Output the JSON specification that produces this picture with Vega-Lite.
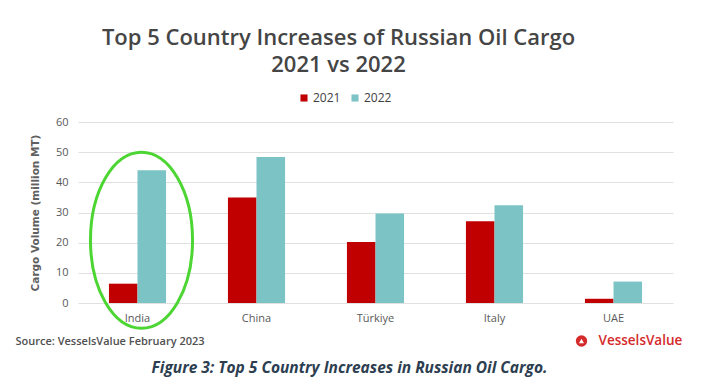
{
  "$schema": "https://vega.github.io/schema/vega-lite/v6.json",
  "autosize": "none",
  "width": 595,
  "height": 181,
  "padding": {"left": 78, "top": 122, "right": 28, "bottom": 83},
  "background": "white",
  "config": {
    "view": {"stroke": null},
    "font": "Open Sans"
  },
  "title": {
    "text": ["Top 5 Country Increases of Russian Oil Cargo", "2021 vs 2022"],
    "frame": "group",
    "anchor": "middle",
    "dx": -37,
    "font": "Open Sans",
    "fontSize": 22,
    "fontWeight": 600,
    "color": "#454545",
    "lineHeight": 27.5,
    "offset": 15
  },
  "datasets": {
    "cargo": [
      {"country": "India", "year": "2021", "volume": 6.4},
      {"country": "India", "year": "2022", "volume": 44.0},
      {"country": "China", "year": "2021", "volume": 35.0},
      {"country": "China", "year": "2022", "volume": 48.4},
      {"country": "Türkiye", "year": "2021", "volume": 20.2},
      {"country": "Türkiye", "year": "2022", "volume": 29.7},
      {"country": "Italy", "year": "2021", "volume": 27.1},
      {"country": "Italy", "year": "2022", "volume": 32.4},
      {"country": "UAE", "year": "2021", "volume": 1.4},
      {"country": "UAE", "year": "2022", "volume": 7.1}
    ],
    "highlight": [
      {"country": "India", "volume": 20.8}
    ],
    "logo": [
      {"country": "UAE", "volume": -12.6, "label": "VesselsValue"}
    ],
    "caption": [
      {"country": "Türkiye", "volume": -21.5, "label": "Figure 3: Top 5 Country Increases in Russian Oil Cargo."}
    ]
  },
  "encoding": {
    "x": {
      "field": "country",
      "type": "nominal",
      "sort": ["India", "China", "Türkiye", "Italy", "UAE"],
      "scale": {"paddingInner": 0.52, "paddingOuter": 0.26},
      "axis": {
        "title": "Source: VesselsValue February 2023",
        "titleAnchor": "start",
        "titleAlign": "left",
        "titleBaseline": "middle",
        "titleX": -63,
        "titleY": 38,
        "titleFontSize": 11,
        "titleFontWeight": 600,
        "titleColor": "#505050",
        "labelAngle": 0,
        "labelFontSize": 11,
        "labelColor": "#595959",
        "labelPadding": 9,
        "domain": false,
        "ticks": false
      }
    },
    "y": {
      "field": "volume",
      "type": "quantitative",
      "scale": {"domain": [0, 60]},
      "axis": {
        "title": "Cargo Volume (million MT)",
        "titleFont": "DejaVu Sans",
        "titleFontSize": 10.5,
        "titleFontWeight": "bold",
        "titleColor": "#606060",
        "titlePadding": 15,
        "values": [0, 10, 20, 30, 40, 50, 60],
        "labelOverlap": false,
        "labelFontSize": 11,
        "labelColor": "#595959",
        "labelPadding": 10,
        "domain": false,
        "ticks": false,
        "gridColor": "#e0e0e0"
      }
    }
  },
  "layer": [
    {
      "data": {"name": "cargo"},
      "mark": {"type": "bar"},
      "encoding": {
        "xOffset": {"field": "year", "type": "nominal"},
        "color": {
          "field": "year",
          "type": "nominal",
          "scale": {"domain": ["2021", "2022"], "range": ["#c00000", "#7cc3c5"]},
          "legend": {
            "title": null,
            "orient": "none",
            "direction": "horizontal",
            "legendX": 220,
            "legendY": -30,
            "symbolType": "square",
            "symbolSize": 50,
            "symbolStrokeWidth": 0,
            "labelFontSize": 12,
            "labelColor": "#404040",
            "columnPadding": 8,
            "labelOffset": 3
          }
        }
      }
    },
    {
      "data": {"name": "highlight"},
      "mark": {
        "type": "point",
        "shape": "M 0 -1 C 0.3203 -1 0.58 -0.5523 0.58 0 C 0.58 0.5523 0.3203 1 0 1 C -0.3203 1 -0.58 0.5523 -0.58 0 C -0.58 -0.5523 -0.3203 -1 0 -1 Z",
        "size": 30976,
        "filled": false,
        "stroke": "#4dd633",
        "strokeWidth": 3,
        "opacity": 1,
        "xOffset": 4,
        "clip": false
      }
    },
    {
      "data": {"name": "logo"},
      "mark": {"type": "point", "shape": "circle", "filled": true, "color": "#d42a2a", "size": 130, "opacity": 1, "xOffset": -32, "clip": false}
    },
    {
      "data": {"name": "logo"},
      "mark": {"type": "point", "shape": "triangle-up", "filled": true, "color": "white", "size": 26, "opacity": 1, "xOffset": -32, "clip": false}
    },
    {
      "data": {"name": "logo"},
      "mark": {"type": "text", "align": "left", "baseline": "middle", "dx": -15, "fontSize": 13.5, "fontWeight": 600, "color": "#d42a2a", "clip": false},
      "encoding": {
        "text": {"field": "label"}
      }
    },
    {
      "data": {"name": "caption"},
      "mark": {"type": "text", "align": "center", "baseline": "middle", "dx": -26, "fontSize": 15.5, "fontWeight": 700, "fontStyle": "italic", "color": "#2c3e50", "clip": false},
      "encoding": {
        "text": {"field": "label"}
      }
    }
  ]
}
